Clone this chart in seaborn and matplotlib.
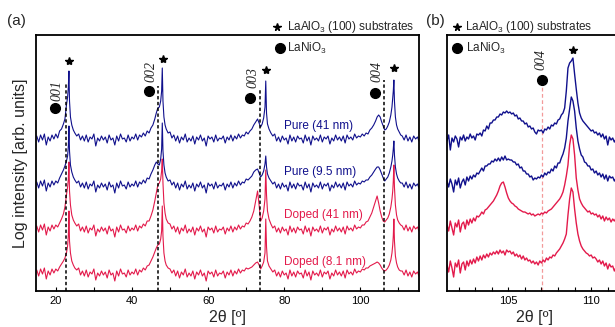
import numpy as np
import pandas as pd
import matplotlib
matplotlib.use("Agg")
import matplotlib.pyplot as plt
from matplotlib.ticker import MultipleLocator
import seaborn as sns

# ---------------- panel (a) data: 2theta grid and log-intensity (offset) ----------------
two_theta_a = [
    15.0, 15.5, 16.0, 16.5, 17.0, 17.5, 18.0, 18.5, 19.0, 19.5,
    20.0, 20.5, 21.0, 21.5, 22.0, 22.4, 22.8, 23.1, 23.3, 23.45,
    23.6, 23.85, 24.2, 24.6, 25.0, 25.5, 26.0, 26.5, 27.0, 27.5,
    28.0, 28.5, 29.0, 29.5, 30.0, 30.5, 31.0, 31.5, 32.0, 32.5,
    33.0, 33.5, 34.0, 34.5, 35.0, 35.5, 36.0, 36.5, 37.0, 37.5,
    38.0, 38.5, 39.0, 39.5, 40.0, 40.5, 41.0, 41.5, 42.0, 42.5,
    43.0, 43.5, 44.0, 44.5, 45.0, 45.5, 46.0, 46.4, 46.8, 47.2,
    47.55, 47.8, 47.97, 48.15, 48.4, 48.7, 49.0, 49.5, 50.0, 50.5,
    51.0, 51.5, 52.0, 52.5, 53.0, 53.5, 54.0, 54.5, 55.0, 55.5,
    56.0, 56.5, 57.0, 57.5, 58.0, 58.5, 59.0, 59.5, 60.0, 60.5,
    61.0, 61.5, 62.0, 62.5, 63.0, 63.5, 64.0, 64.5, 65.0, 65.5,
    66.0, 66.5, 67.0, 67.5, 68.0, 68.5, 69.0, 69.5, 70.0, 70.5,
    71.0, 71.5, 72.0, 72.5, 73.0, 73.4, 73.8, 74.2, 74.6, 74.95,
    75.15, 75.35, 75.6, 76.0, 76.5, 77.0, 77.5, 78.0, 78.5, 79.0,
    79.5, 80.0, 80.5, 81.0, 81.5, 82.0, 82.5, 83.0, 83.5, 84.0,
    84.5, 85.0, 85.5, 86.0, 86.5, 87.0, 87.5, 88.0, 88.5, 89.0,
    89.5, 90.0, 90.5, 91.0, 91.5, 92.0, 92.5, 93.0, 93.5, 94.0,
    94.5, 95.0, 95.5, 96.0, 96.5, 97.0, 97.5, 98.0, 98.5, 99.0,
    99.5, 100.0, 100.5, 101.0, 101.5, 102.0, 102.5, 103.0, 103.5, 104.0,
    104.4, 104.8, 105.2, 105.6, 106.0, 106.4, 106.8, 107.2, 107.6, 108.0,
    108.3, 108.5, 108.65, 108.8, 108.95, 109.2, 109.5, 109.8, 110.2, 110.6,
    111.0, 111.5, 112.0, 112.5, 113.0, 113.5, 114.0, 114.5, 115.0, 115.4,
]

pure41_a = [
    155, 149, 156, 151, 157, 146, 154, 150, 156, 152,
    157, 153, 160, 162, 167, 172, 186, 194, 204, 220,
    190, 174, 166, 161, 158, 155, 157, 151, 155, 150,
    156, 149, 154, 152, 157, 145, 153, 150, 155, 151,
    154, 148, 156, 151, 153, 146, 155, 150, 157, 152,
    153, 149, 156, 150, 154, 152, 157, 151, 156, 154,
    158, 155, 160, 158, 163, 166, 172, 178, 183, 184,
    190, 200, 223, 190, 174, 166, 162, 158, 159, 153,
    156, 150, 155, 148, 154, 151, 157, 149, 153, 150,
    155, 147, 154, 151, 156, 150, 153, 145, 155, 152,
    154, 149, 156, 150, 153, 152, 155, 148, 154, 151,
    156, 150, 155, 152, 157, 153, 156, 155, 159, 157,
    160, 162, 166, 169, 172, 168, 164, 167, 173, 184,
    210, 178, 167, 162, 158, 155, 157, 150, 154, 149,
    155, 151, 153, 147, 156, 150, 154, 149, 155, 152,
    153, 148, 156, 150, 154, 146, 155, 151, 153, 150,
    156, 149, 154, 152, 155, 147, 153, 150, 156, 151,
    154, 150, 155, 148, 156, 152, 154, 151, 157, 153,
    155, 154, 157, 155, 158, 157, 161, 163, 166, 170,
    174, 176, 174, 169, 165, 161, 162, 165, 169, 176,
    184, 193, 200, 211, 190, 174, 166, 162, 159, 156,
    155, 151, 156, 150, 154, 149, 155, 152, 154, 150,
]

pure95_a = [
    109, 103, 110, 105, 111, 100, 108, 104, 110, 106,
    110, 108, 113, 117, 121, 125, 130, 135, 145, 165,
    140, 126, 119, 114, 111, 108, 110, 104, 108, 103,
    109, 102, 107, 105, 110, 99, 106, 103, 108, 104,
    107, 101, 109, 104, 106, 98, 108, 103, 110, 105,
    106, 102, 109, 104, 107, 105, 110, 104, 109, 107,
    111, 108, 113, 112, 117, 121, 126, 129, 127, 126,
    132, 142, 168, 140, 126, 118, 114, 110, 111, 106,
    109, 103, 108, 101, 107, 104, 110, 102, 106, 103,
    108, 100, 107, 104, 109, 103, 106, 98, 108, 105,
    107, 102, 109, 103, 106, 105, 108, 101, 107, 104,
    109, 103, 108, 105, 110, 106, 109, 108, 112, 111,
    113, 115, 119, 121, 122, 118, 114, 116, 120, 127,
    135, 124, 117, 113, 110, 107, 109, 103, 107, 102,
    108, 104, 106, 100, 109, 103, 107, 102, 108, 105,
    106, 101, 109, 103, 107, 99, 108, 104, 106, 103,
    109, 102, 107, 105, 108, 100, 106, 103, 109, 104,
    107, 103, 108, 101, 109, 105, 107, 104, 110, 106,
    108, 107, 110, 109, 111, 111, 114, 116, 119, 122,
    124, 124, 121, 117, 113, 110, 112, 114, 118, 124,
    130, 136, 142, 150, 136, 124, 117, 113, 110, 108,
    108, 104, 109, 103, 107, 102, 108, 105, 107, 103,
]

doped41_a = [
    65, 59, 66, 61, 67, 56, 64, 60, 66, 62,
    66, 64, 68, 72, 77, 84, 96, 104, 112, 129,
    100, 86, 76, 71, 68, 65, 67, 60, 64, 59,
    65, 58, 63, 61, 66, 55, 62, 59, 64, 60,
    63, 57, 65, 60, 62, 54, 64, 59, 66, 61,
    62, 58, 65, 60, 63, 61, 66, 60, 65, 63,
    67, 65, 70, 70, 75, 81, 90, 98, 106, 108,
    112, 120, 132, 108, 88, 78, 72, 68, 67, 62,
    65, 59, 64, 57, 63, 60, 66, 58, 62, 59,
    64, 56, 63, 60, 65, 59, 62, 54, 64, 61,
    63, 58, 65, 59, 62, 61, 64, 57, 63, 60,
    65, 59, 64, 61, 66, 62, 65, 64, 68, 67,
    70, 74, 80, 90, 100, 86, 70, 73, 80, 92,
    121, 96, 80, 72, 67, 63, 65, 59, 63, 58,
    64, 60, 62, 56, 65, 59, 63, 58, 64, 61,
    62, 57, 65, 59, 63, 55, 64, 60, 62, 59,
    65, 58, 63, 61, 64, 56, 62, 59, 65, 60,
    63, 59, 64, 57, 65, 61, 63, 60, 66, 62,
    64, 63, 66, 66, 69, 70, 74, 78, 84, 90,
    95, 88, 80, 74, 70, 69, 71, 73, 77, 84,
    92, 100, 110, 126, 104, 86, 76, 71, 68, 66,
    65, 61, 66, 60, 64, 59, 65, 62, 64, 60,
]

doped81_a = [
    21, 15, 22, 17, 23, 12, 20, 16, 22, 18,
    22, 20, 24, 27, 30, 33, 38, 45, 56, 80,
    50, 38, 30, 26, 23, 21, 23, 16, 20, 15,
    21, 14, 19, 17, 22, 11, 18, 15, 20, 16,
    19, 13, 21, 16, 18, 10, 20, 15, 22, 17,
    18, 14, 21, 16, 19, 17, 22, 16, 21, 19,
    23, 21, 25, 26, 30, 34, 39, 43, 46, 47,
    52, 60, 85, 55, 38, 30, 26, 23, 22, 18,
    21, 15, 20, 13, 19, 16, 22, 14, 18, 15,
    20, 12, 19, 16, 21, 15, 18, 10, 20, 17,
    19, 14, 21, 15, 18, 17, 20, 13, 19, 16,
    21, 15, 20, 17, 22, 18, 21, 20, 23, 22,
    23, 24, 26, 28, 29, 26, 22, 25, 29, 38,
    72, 44, 30, 25, 22, 19, 21, 15, 19, 14,
    20, 16, 18, 12, 21, 15, 19, 14, 20, 17,
    18, 13, 21, 15, 19, 11, 20, 16, 18, 15,
    21, 14, 19, 17, 20, 12, 18, 15, 21, 16,
    19, 15, 20, 13, 21, 17, 19, 16, 22, 18,
    20, 19, 22, 21, 23, 23, 25, 26, 27, 28,
    29, 28, 26, 23, 21, 20, 21, 23, 26, 31,
    38, 46, 55, 72, 50, 35, 28, 24, 21, 20,
    20, 16, 21, 15, 19, 14, 20, 17, 19, 15,
]

# ---------------- panel (b) data: zoom around the 004 reflection ----------------
two_theta_b = [
    101.3, 101.4, 101.5, 101.6, 101.7, 101.8, 101.9, 102.0, 102.1, 102.2,
    102.3, 102.4, 102.5, 102.6, 102.7, 102.8, 102.9, 103.0, 103.1, 103.2,
    103.3, 103.4, 103.5, 103.6, 103.7, 103.8, 103.9, 104.0, 104.1, 104.2,
    104.3, 104.4, 104.5, 104.6, 104.7, 104.8, 104.9, 105.0, 105.1, 105.2,
    105.3, 105.4, 105.5, 105.6, 105.7, 105.8, 105.9, 106.0, 106.1, 106.2,
    106.3, 106.4, 106.5, 106.6, 106.7, 106.8, 106.9, 107.0, 107.1, 107.2,
    107.3, 107.4, 107.5, 107.6, 107.7, 107.8, 107.9, 108.0, 108.1, 108.2,
    108.3, 108.4, 108.5, 108.6, 108.7, 108.8, 108.9, 109.0, 109.1, 109.2,
    109.3, 109.4, 109.5, 109.6, 109.7, 109.8, 109.9, 110.0, 110.1, 110.2,
    110.3, 110.4, 110.5, 110.6, 110.7, 110.8, 110.9, 111.0, 111.1, 111.2,
    111.3, 111.4, 111.5, 111.6, 111.7, 111.8,
]

pure41_b = [
    150, 156, 141, 153, 149, 155, 152, 144, 154, 151,
    156, 150, 154, 152, 157, 153, 155, 151, 157, 156,
    158, 155, 161, 160, 165, 162, 168, 168, 171, 171,
    174, 174, 177, 176, 179, 178, 180, 178, 179, 177,
    178, 175, 176, 172, 173, 170, 170, 167, 168, 164,
    165, 162, 163, 159, 157, 161, 160, 161, 158, 162,
    161, 164, 162, 166, 165, 168, 167, 171, 172, 176,
    178, 183, 200, 223, 228, 230, 233, 217, 202, 188,
    178, 173, 170, 168, 166, 164, 162, 160, 161, 158,
    159, 156, 158, 154, 157, 152, 155, 146, 154, 151,
    153, 149, 152, 150, 154, 151,
]

pure95_b = [
    110, 104, 112, 107, 99, 111, 106, 113, 103, 109,
    112, 106, 114, 110, 115, 112, 116, 114, 118, 117,
    120, 123, 120, 125, 125, 127, 127, 130, 129, 132,
    130, 133, 130, 134, 131, 135, 131, 132, 131, 131,
    129, 129, 126, 127, 123, 124, 120, 120, 117, 117,
    114, 115, 111, 113, 112, 114, 113, 116, 114, 118,
    116, 119, 118, 122, 120, 125, 123, 128, 128, 133,
    137, 143, 153, 170, 182, 194, 190, 180, 163, 150,
    142, 136, 134, 129, 128, 125, 125, 121, 122, 118,
    120, 116, 118, 114, 117, 112, 116, 110, 115, 113,
    114, 110, 113, 108, 112, 111,
]

doped41_b = [
    66, 60, 70, 63, 56, 68, 64, 71, 59, 67,
    69, 62, 71, 66, 72, 68, 73, 70, 75, 74,
    76, 79, 77, 81, 82, 84, 86, 88, 90, 93,
    96, 100, 105, 108, 109, 104, 98, 93, 90, 88,
    87, 85, 84, 82, 81, 80, 79, 79, 78, 77,
    78, 76, 77, 75, 76, 77, 76, 78, 77, 79,
    78, 80, 81, 82, 84, 86, 88, 90, 92, 95,
    99, 106, 115, 126, 146, 156, 152, 136, 113, 101,
    92, 88, 85, 83, 81, 79, 80, 77, 78, 76,
    77, 74, 76, 72, 75, 70, 74, 71, 73, 69,
    72, 70, 73, 68, 71, 70,
]

doped81_b = [
    26, 19, 30, 23, 14, 28, 24, 31, 18, 27,
    29, 21, 30, 25, 31, 27, 32, 28, 34, 30,
    35, 31, 36, 33, 37, 34, 38, 36, 39, 37,
    40, 37, 41, 38, 40, 36, 41, 39, 40, 37,
    39, 35, 37, 34, 36, 32, 35, 31, 33, 30,
    31, 28, 30, 27, 29, 26, 30, 28, 31, 29,
    33, 31, 34, 33, 36, 35, 38, 40, 42, 45,
    48, 52, 57, 76, 92, 103, 99, 82, 68, 57,
    50, 45, 42, 40, 38, 37, 35, 36, 33, 34,
    32, 29, 31, 27, 30, 25, 28, 22, 27, 24,
    25, 20, 24, 18, 23, 21,
]

sample_names = ["Pure (41 nm)", "Pure (9.5 nm)", "Doped (41 nm)", "Doped (8.1 nm)"]
label_y = [165.5, 119, 76, 29]

# reflections
lno_labels = ["001", "002", "003", "004"]
lno_pos = [22.7, 46.9, 73.6, 106.2]
lao_pos = [23.35, 48.1, 75.2, 108.9]

for arr in (pure41_a, pure95_a, doped41_a, doped81_a):
    assert len(arr) == len(two_theta_a), len(arr)
for arr in (pure41_b, pure95_b, doped41_b, doped81_b):
    assert len(arr) == len(two_theta_b), len(arr)

# ---------------- styling ----------------
sns.set_theme(style="ticks")
plt.rcParams['font.family'] = ['Liberation Sans', 'DejaVu Sans']
plt.rcParams['mathtext.fontset'] = 'custom'
plt.rcParams['mathtext.rm'] = 'Liberation Sans'
plt.rcParams['mathtext.it'] = 'Liberation Sans:italic'
plt.rcParams['mathtext.bf'] = 'Liberation Sans:bold'

BLUE = "#10108c"
RED = "#e31a4b"
colors = {sample_names[0]: BLUE, sample_names[1]: BLUE,
          sample_names[2]: RED, sample_names[3]: RED}

def long_df(x, series):
    frames = []
    for name, ys in zip(sample_names, series):
        frames.append(pd.DataFrame({"x": x, "y": ys, "sample": name}))
    return pd.concat(frames, ignore_index=True)

df_a = long_df(two_theta_a, [pure41_a, pure95_a, doped41_a, doped81_a])
df_b = long_df(two_theta_b, [pure41_b, pure95_b, doped41_b, doped81_b])

W, H = 615, 327
fig = plt.figure(figsize=(W / 100, H / 100), dpi=100)
ax_a = fig.add_axes([36 / W, 36 / H, 383 / W, 256 / H])
ax_b = fig.add_axes([447 / W, 36 / H, 174 / W, 256 / H])

draw_order = sample_names[::-1]
sns.lineplot(data=df_a, x="x", y="y", hue="sample", hue_order=draw_order,
             palette=colors, estimator=None, sort=False, linewidth=0.8,
             legend=False, ax=ax_a)
sns.lineplot(data=df_b, x="x", y="y", hue="sample", hue_order=draw_order,
             palette=colors, estimator=None, sort=False, linewidth=1.0,
             legend=False, ax=ax_b)

for ax in (ax_a, ax_b):
    ax.set_ylim(0, 256)
    ax.set_yticks([])
    for s in ax.spines.values():
        s.set_linewidth(1.3)
        s.set_color("black")
    ax.tick_params(axis="x", which="both", direction="in", length=3,
                   width=0.8, labelsize=8, pad=3.5, colors="black")
    ax.set_xlabel("2θ [º]", fontsize=11.5, labelpad=3)
    ax.set_ylabel("")

ax_a.set_xlim(14.8, 115.4)
ax_a.xaxis.set_major_locator(MultipleLocator(20))
ax_a.xaxis.set_minor_locator(MultipleLocator(10))
ax_b.set_xlim(101.3, 111.8)
ax_b.xaxis.set_major_locator(MultipleLocator(5))
ax_b.xaxis.set_minor_locator(MultipleLocator(1))
ax_a.set_ylabel("Log intensity [arb. units]", fontsize=11.5, labelpad=6)

serif = ['Liberation Serif', 'DejaVu Serif']

# ---- panel (a) annotations ----
circ_x = [19.9, 44.4, 71.1, 103.8]
circ_y = [183, 200, 193, 198]
lab_x = [20.4, 44.9, 71.8, 104.3]
lab_y = [200.5, 220, 213.5, 219]
dash_top = [208, 205, 201, 211]
star_y = [230.5, 232, 221.5, 223]
for i in range(4):
    ax_a.plot([lno_pos[i], lno_pos[i]], [0, dash_top[i]], color="black",
              lw=1.1, ls=(0, (2.2, 1.6)), zorder=4)
    ax_a.plot(circ_x[i], circ_y[i], "o", color="black", ms=7, zorder=5)
    ax_a.text(lab_x[i], lab_y[i], lno_labels[i], rotation=90, fontsize=10,
              family=serif, style="italic", ha="center", va="center")
    ax_a.plot(lao_pos[i], star_y[i], "*", color="black", ms=6, zorder=5)

for name, yy in zip(sample_names, label_y):
    ax_a.text(80.0, yy, name, color=colors[name], fontsize=8.5,
              ha="left", va="center")

ax_a.plot(78.2, 263.7, "*", color="black", ms=5.5, clip_on=False)
ax_a.text(80.6, 263.7, "LaAlO$_3$ (100) substrates", fontsize=8.5,
          ha="left", va="center", clip_on=False)
ax_a.plot(78.8, 243, "o", color="black", ms=7, clip_on=False)
ax_a.text(80.6, 243, "LaNiO$_3$", fontsize=8.5, ha="left", va="center")

# ---- panel (b) annotations ----
ax_b.plot([107.05, 107.05], [0, 207], color="#f39a9a", lw=0.9,
          ls=(0, (3, 2)), zorder=1)
ax_b.plot(107.05, 211, "o", color="black", ms=7, zorder=5)
ax_b.text(107.0, 231, "004", rotation=90, fontsize=10, family=serif,
          style="italic", ha="center", va="center")
ax_b.plot(108.92, 241, "*", color="black", ms=6, zorder=5)
ax_b.plot(101.89, 263.7, "*", color="black", ms=5.5, clip_on=False)
ax_b.text(102.39, 263.7, "LaAlO$_3$ (100) substrates", fontsize=8.5,
          ha="left", va="center", clip_on=False)
ax_b.plot(101.89, 242.7, "o", color="black", ms=7, clip_on=False)
ax_b.text(102.45, 242.7, "LaNiO$_3$", fontsize=8.5, ha="left", va="center")

fig.text(16.7 / W, 1 - 21 / H, "(a)", fontsize=11, ha="center", va="center")
fig.text(435 / W, 1 - 21 / H, "(b)", fontsize=11, ha="center", va="center")

fig.savefig("out.png", dpi=100)
